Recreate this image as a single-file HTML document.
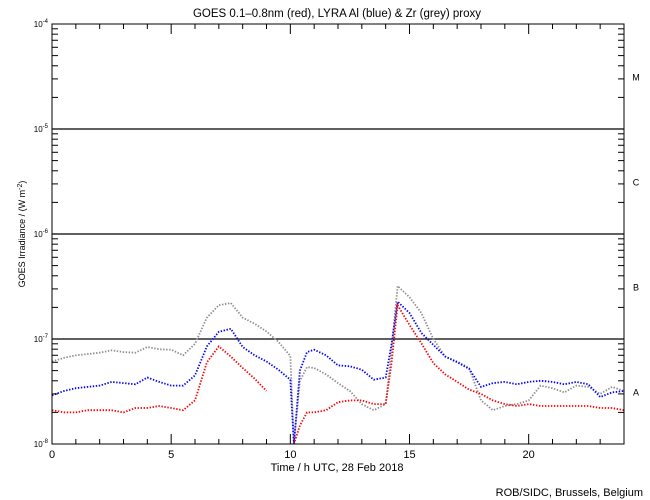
<!DOCTYPE html>
<html><head><meta charset="utf-8">
<style>
html,body{margin:0;padding:0;background:#fff;}
svg{display:block;font-family:"Liberation Sans",sans-serif;}
</style></head>
<body>
<svg id="chart" width="650" height="500" viewBox="0 0 650 500">
  <defs><clipPath id="plotclip"><rect x="52" y="24" width="572" height="420"/></clipPath></defs>
  <rect x="0" y="0" width="650" height="500" fill="#fff"/>
  <text x="337" y="17" text-anchor="middle" font-size="11.5">GOES 0.1–0.8nm (red), LYRA Al (blue) &amp; Zr (grey) proxy</text>
  <g id="grid"></g>
  <g id="series" clip-path="url(#plotclip)"></g>
  <rect x="52" y="24" width="572" height="420" fill="none" stroke="#000" stroke-width="1"/>
  <g id="axes"></g>
  <text transform="translate(25,234) rotate(-90)" text-anchor="middle" font-size="9">GOES Irradiance / (W m<tspan dy="-3" font-size="7">-2</tspan><tspan dy="3">)</tspan></text>
  <text x="337" y="471" text-anchor="middle" font-size="11">Time / h UTC, 28 Feb 2018</text>
  <text x="643" y="496" text-anchor="end" font-size="11">ROB/SIDC, Brussels, Belgium</text>
</svg>
<script>
const times = [0,0.5,1,1.5,2,2.5,3,3.5,4,4.5,5,5.5,6,6.5,7,7.5,8,8.5,9,9.5,10,10.15,10.4,10.7,11,11.5,12,12.5,13,13.5,14,14.25,14.5,15,15.5,16,16.5,17,17.5,18,18.5,19,19.5,20,20.5,21,21.5,22,22.5,23,23.5,24];
// values in units of 1e-8 W m^-2
const redGoes = [2.1,2.0,2.0,2.1,2.1,2.1,2.0,2.2,2.2,2.3,2.2,2.1,2.6,6.0,8.5,6.8,5.3,4.2,3.2,null,null,1.0,1.5,2.0,2.0,2.1,2.5,2.6,2.6,2.4,2.4,6,21,13.6,9.1,5.9,4.6,3.9,3.3,3.0,2.6,2.4,2.3,2.4,2.3,2.3,2.3,2.3,2.3,2.2,2.2,2.1];
const blueAl = [2.9,3.2,3.4,3.5,3.6,3.9,3.8,3.7,4.3,3.9,3.6,3.6,4.5,8.5,11.7,12.5,8.4,7.0,6.1,5.1,4.1,1.0,5,7.5,7.9,7,5.6,5.5,5.1,4.1,4.3,9,22.7,17.7,11.4,8.8,6.8,6.0,5.2,3.5,3.8,3.9,3.7,3.9,4.0,3.9,3.7,3.9,3.7,2.8,3.1,3.2];
const greyZr = [6.1,6.6,7.0,7.2,7.4,7.8,7.5,7.4,8.4,8.0,7.9,7.0,9,16,21,22,16,14,11.8,9.4,6.9,1.0,4,5.4,5.3,4.6,3.8,3.2,2.4,2.1,2.4,8,32,25,17.7,10,6.8,6.1,5.3,2.6,2.1,2.3,2.4,2.6,3.6,3.4,3.1,3.6,3.5,3.0,3.5,3.2];
const xTickLabels = ["0","5","10","15","20"];
const yDecades = [-8,-7,-6,-5,-4];
const classLetters = ["A","B","C","M"];

const NS="http://www.w3.org/2000/svg";
const X0=52,X1=624,Y0=444,Y1=24;
function xs(h){return X0+(X1-X0)*h/24;}
function ys(logv){return Y0-(Y0-Y1)*(logv+8)/4;}
function yv(v1e8){return ys(Math.log10(v1e8*1e-8));}
function mk(tag,attrs,parent){const e=document.createElementNS(NS,tag);for(const k in attrs)e.setAttribute(k,attrs[k]);parent.appendChild(e);return e;}

const grid=document.getElementById('grid');
const axes=document.getElementById('axes');
const series=document.getElementById('series');

[-7,-6,-5].forEach(d=>{
  const l=mk('line',{x1:X0,x2:X1,y1:ys(d),y2:ys(d),stroke:'#000','stroke-width':1.2},grid);
  
  
});
yDecades.forEach(d=>{
  const y=ys(d);
  const t=mk('text',{x:48,y:y+3,'text-anchor':'end','font-size':8},axes);
  
  
  t.textContent='10';
  const s=mk('tspan',{dy:-4,'font-size':6},t);s.textContent=String(d);
  if(d<-4){
    for(let m=2;m<=9;m++){
      const yy=ys(d+Math.log10(m));
      mk('line',{x1:X0,x2:X0+6,y1:yy,y2:yy,stroke:'#000'},axes);
      mk('line',{x1:X1,x2:X1-6,y1:yy,y2:yy,stroke:'#000'},axes);
    }
  }
});
classLetters.forEach((c,i)=>{
  const t=mk('text',{x:636,y:ys(-8+i+0.5)+4,'text-anchor':'middle','font-size':9},axes);
  
  
  t.textContent=c;
});
for(let h=0;h<=24;h++){
  const x=xs(h),len=(h%5===0)?10:5;
  mk('line',{x1:x,x2:x,y1:Y0,y2:Y0-len,stroke:'#000'},axes);
  mk('line',{x1:x,x2:x,y1:Y1,y2:Y1+len,stroke:'#000'},axes);
}
xTickLabels.forEach(lbl=>{
  const t=mk('text',{x:xs(+lbl),y:458,'text-anchor':'middle','font-size':11},axes);
  
  
  t.textContent=lbl;
});
function draw(vals,color,name){
  let d='',pen=false;
  vals.forEach((v,i)=>{
    if(v==null){pen=false;return;}
    const x=xs(times[i]).toFixed(1),y=yv(v).toFixed(1);
    d+=(pen?'L':'M')+x+','+y;pen=true;
  });
  const p=mk('path',{d:d,fill:'none',stroke:color,'stroke-width':1.8,'stroke-dasharray':'1.4 1.6'},series);
  
  
}
draw(greyZr,'#8c8c8c','zr-grey-series');
draw(blueAl,'#0000ff','al-blue-series');
draw(redGoes,'#ff0000','goes-red-series');
</script>
</body></html>
